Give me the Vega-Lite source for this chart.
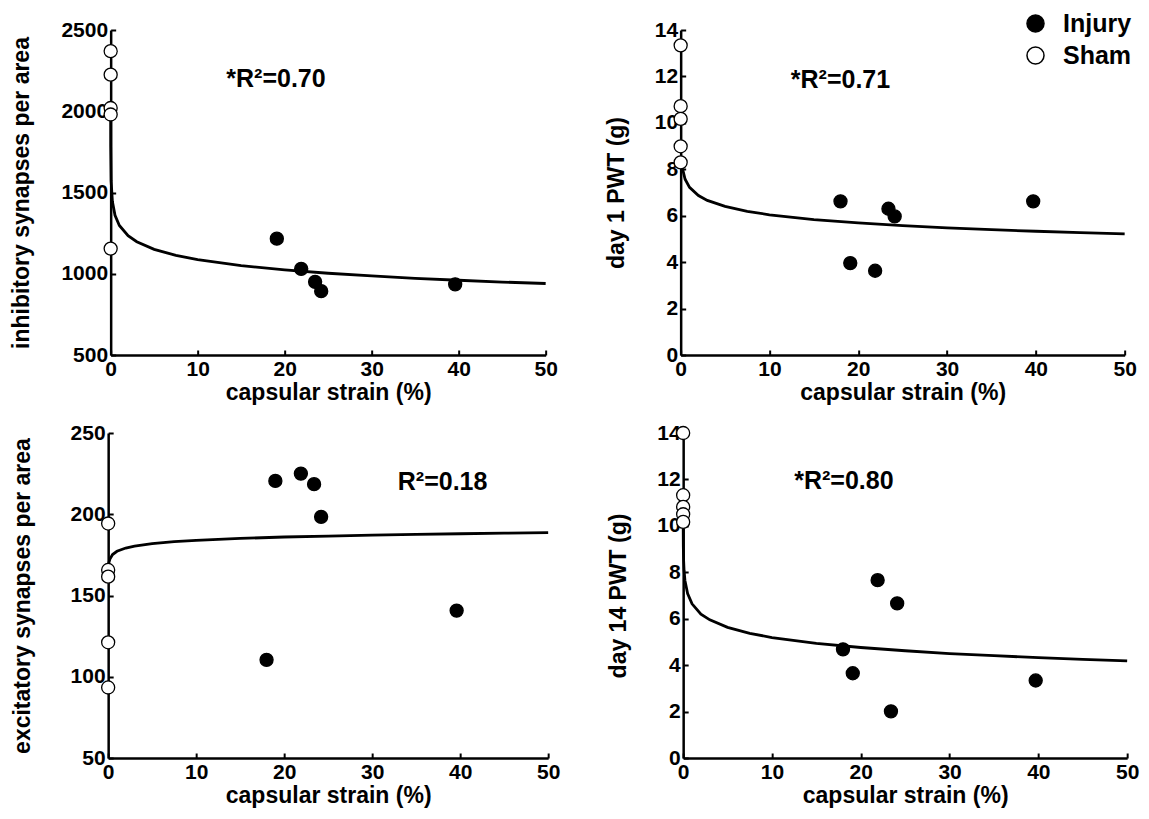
{
  "$schema": "https://vega.github.io/schema/vega-lite/v6.json",
  "padding": {"left": 10, "top": 11, "right": 5, "bottom": 5},
  "background": "white",
  "datasets": {
    "pts1": [
      {"strain": 0, "value": 2370, "group": "Sham"},
      {"strain": 0, "value": 2225, "group": "Sham"},
      {"strain": 0, "value": 2020, "group": "Sham"},
      {"strain": 0, "value": 1980, "group": "Sham"},
      {"strain": 0, "value": 1155, "group": "Sham"},
      {"strain": 19.1, "value": 1216, "group": "Injury"},
      {"strain": 21.9, "value": 1030, "group": "Injury"},
      {"strain": 23.5, "value": 950, "group": "Injury"},
      {"strain": 24.2, "value": 893, "group": "Injury"},
      {"strain": 39.6, "value": 935, "group": "Injury"}
    ],
    "fit1": [
      {"strain": 0.0005, "value": 1991}, {"strain": 0.005, "value": 1781}, {"strain": 0.05, "value": 1571},
      {"strain": 0.2, "value": 1444}, {"strain": 0.5, "value": 1360}, {"strain": 1, "value": 1297},
      {"strain": 2, "value": 1234}, {"strain": 3, "value": 1197}, {"strain": 5, "value": 1150},
      {"strain": 7.5, "value": 1113}, {"strain": 10, "value": 1087}, {"strain": 15, "value": 1050},
      {"strain": 20, "value": 1024}, {"strain": 25, "value": 1003}, {"strain": 30, "value": 987},
      {"strain": 35, "value": 972}, {"strain": 40, "value": 960}, {"strain": 45, "value": 949},
      {"strain": 50, "value": 940}
    ],
    "r1": [{"strain": 19.0, "value": 2197, "label": "*R²=0.70"}],
    "pts2": [
      {"strain": 0, "value": 13.34, "group": "Sham"},
      {"strain": 0, "value": 10.72, "group": "Sham"},
      {"strain": 0, "value": 10.17, "group": "Sham"},
      {"strain": 0, "value": 8.99, "group": "Sham"},
      {"strain": 0, "value": 8.30, "group": "Sham"},
      {"strain": 18.0, "value": 6.62, "group": "Injury"},
      {"strain": 19.1, "value": 3.96, "group": "Injury"},
      {"strain": 21.9, "value": 3.63, "group": "Injury"},
      {"strain": 23.4, "value": 6.30, "group": "Injury"},
      {"strain": 24.1, "value": 5.97, "group": "Injury"},
      {"strain": 39.7, "value": 6.62, "group": "Injury"}
    ],
    "fit2": [
      {"strain": 0.1, "value": 8.40}, {"strain": 0.2, "value": 8.04}, {"strain": 0.5, "value": 7.57},
      {"strain": 1, "value": 7.22}, {"strain": 2, "value": 6.87}, {"strain": 3, "value": 6.66},
      {"strain": 5, "value": 6.40}, {"strain": 7.5, "value": 6.19}, {"strain": 10, "value": 6.04},
      {"strain": 15, "value": 5.83}, {"strain": 20, "value": 5.69}, {"strain": 25, "value": 5.57},
      {"strain": 30, "value": 5.48}, {"strain": 35, "value": 5.40}, {"strain": 40, "value": 5.33},
      {"strain": 45, "value": 5.27}, {"strain": 50, "value": 5.22}
    ],
    "r2": [{"strain": 18.0, "value": 11.85, "label": "*R²=0.71"}],
    "pts3": [
      {"strain": 0, "value": 194.3, "group": "Sham"},
      {"strain": 0, "value": 165.7, "group": "Sham"},
      {"strain": 0, "value": 161.6, "group": "Sham"},
      {"strain": 0, "value": 121.2, "group": "Sham"},
      {"strain": 0, "value": 93.4, "group": "Sham"},
      {"strain": 19.0, "value": 220.5, "group": "Injury"},
      {"strain": 21.9, "value": 225, "group": "Injury"},
      {"strain": 23.4, "value": 218.5, "group": "Injury"},
      {"strain": 24.2, "value": 198.4, "group": "Injury"},
      {"strain": 18.0, "value": 110.4, "group": "Injury"},
      {"strain": 39.6, "value": 140.7, "group": "Injury"}
    ],
    "fit3": [
      {"strain": 0.05, "value": 168.4}, {"strain": 0.1, "value": 170.5}, {"strain": 0.2, "value": 172.5},
      {"strain": 0.5, "value": 175.2}, {"strain": 1, "value": 177.2}, {"strain": 2, "value": 179.2},
      {"strain": 3, "value": 180.4}, {"strain": 5, "value": 181.9}, {"strain": 7.5, "value": 183.1},
      {"strain": 10, "value": 183.9}, {"strain": 15, "value": 185.1}, {"strain": 20, "value": 186.0},
      {"strain": 25, "value": 186.6}, {"strain": 30, "value": 187.2}, {"strain": 35, "value": 187.6},
      {"strain": 40, "value": 188.0}, {"strain": 45, "value": 188.4}, {"strain": 50, "value": 188.7}
    ],
    "r3": [{"strain": 38.0, "value": 220, "label": "R²=0.18"}],
    "pts4": [
      {"strain": 0, "value": 14.0, "group": "Sham"},
      {"strain": 0, "value": 11.32, "group": "Sham"},
      {"strain": 0, "value": 10.82, "group": "Sham"},
      {"strain": 0, "value": 10.50, "group": "Sham"},
      {"strain": 0, "value": 10.17, "group": "Sham"},
      {"strain": 21.9, "value": 7.66, "group": "Injury"},
      {"strain": 24.1, "value": 6.66, "group": "Injury"},
      {"strain": 18.0, "value": 4.68, "group": "Injury"},
      {"strain": 19.1, "value": 3.65, "group": "Injury"},
      {"strain": 23.4, "value": 2.01, "group": "Injury"},
      {"strain": 39.7, "value": 3.34, "group": "Injury"}
    ],
    "fit4": [
      {"strain": 0.005, "value": 9.97}, {"strain": 0.02, "value": 9.10}, {"strain": 0.05, "value": 8.52},
      {"strain": 0.1, "value": 8.09}, {"strain": 0.2, "value": 7.65}, {"strain": 0.5, "value": 7.08},
      {"strain": 1, "value": 6.64}, {"strain": 2, "value": 6.20}, {"strain": 3, "value": 5.95},
      {"strain": 5, "value": 5.63}, {"strain": 7.5, "value": 5.37}, {"strain": 10, "value": 5.19},
      {"strain": 15, "value": 4.94}, {"strain": 20, "value": 4.76}, {"strain": 25, "value": 4.62},
      {"strain": 30, "value": 4.50}, {"strain": 35, "value": 4.41}, {"strain": 40, "value": 4.32},
      {"strain": 45, "value": 4.25}, {"strain": 50, "value": 4.18}
    ],
    "r4": [{"strain": 18.1, "value": 11.95, "label": "*R²=0.80"}]
  },
  "config": {
    "font": "Liberation Sans",
    "view": {"stroke": null},
    "axis": {
      "grid": false,
      "format": "d",
      "domainColor": "black",
      "domainWidth": 2.5,
      "tickColor": "black",
      "tickWidth": 2,
      "tickSize": -5,
      "labelFont": "Liberation Sans",
      "labelFontSize": 21,
      "labelFontWeight": "bold",
      "labelColor": "black",
      "labelPadding": 8,
      "labelFlush": false,
      "labelOverlap": false,
      "titleFont": "Liberation Sans",
      "titleFontSize": 23,
      "titleFontWeight": "bold",
      "titleColor": "black"
    },
    "axisX": {"titlePadding": 2},
    "axisY": {"titlePadding": 26},
    "text": {"font": "Liberation Sans", "fontSize": 25, "fontWeight": "bold", "color": "black"}
  },
  "spacing": 18,
  "center": true,
  "vconcat": [
    {
      "bounds": "flush",
      "spacing": 135,
      "hconcat": [
        {
          "width": 435,
          "height": 325,
          "layer": [
            {
              "data": {"name": "fit1"},
              "mark": {"type": "line", "color": "black", "strokeWidth": 2.8},
              "encoding": {
                "x": {"field": "strain", "type": "quantitative", "scale": {"domain": [0, 50], "nice": false}, "axis": {"values": [0, 10, 20, 30, 40, 50], "title": "capsular strain (%)"}},
                "y": {"field": "value", "type": "quantitative", "scale": {"domain": [500, 2500], "nice": false}, "axis": {"values": [500, 1000, 1500, 2000, 2500], "title": "inhibitory synapses per area", "titlePadding": 27}}
              }
            },
            {
              "data": {"name": "pts1"},
              "mark": {"type": "point", "shape": "circle", "filled": true, "size": 170, "stroke": "black", "strokeWidth": 1.3, "opacity": 1},
              "encoding": {
                "x": {"field": "strain", "type": "quantitative"},
                "y": {"field": "value", "type": "quantitative"},
                "fill": {"field": "group", "type": "nominal", "scale": {"domain": ["Injury", "Sham"], "range": ["black", "white"]},
                  "legend": {"title": null, "orient": "none", "legendX": 915, "legendY": -19, "symbolType": "circle", "symbolSize": 290, "symbolStrokeColor": "black", "symbolStrokeWidth": 1.5, "labelFontSize": 25, "labelFontWeight": "bold", "labelFont": "Liberation Sans", "labelColor": "black", "labelOffset": 15, "rowPadding": 6, "padding": 0}}
              }
            },
            {
              "data": {"name": "r1"},
              "mark": {"type": "text", "align": "center", "baseline": "middle"},
              "encoding": {
                "x": {"field": "strain", "type": "quantitative"},
                "y": {"field": "value", "type": "quantitative"},
                "text": {"field": "label"}
              }
            }
          ]
        },
        {
          "width": 444,
          "height": 325,
          "layer": [
            {
              "data": {"name": "fit2"},
              "mark": {"type": "line", "color": "black", "strokeWidth": 2.8},
              "encoding": {
                "x": {"field": "strain", "type": "quantitative", "scale": {"domain": [0, 50], "nice": false}, "axis": {"values": [0, 10, 20, 30, 40, 50], "title": "capsular strain (%)"}},
                "y": {"field": "value", "type": "quantitative", "scale": {"domain": [0, 14], "nice": false}, "axis": {"values": [0, 2, 4, 6, 8, 10, 12, 14], "title": "day 1 PWT (g)"}}
              }
            },
            {
              "data": {"name": "pts2"},
              "mark": {"type": "point", "shape": "circle", "filled": true, "size": 170, "stroke": "black", "strokeWidth": 1.3, "opacity": 1},
              "encoding": {
                "x": {"field": "strain", "type": "quantitative"},
                "y": {"field": "value", "type": "quantitative"},
                "fill": {"field": "group", "type": "nominal", "scale": {"domain": ["Injury", "Sham"], "range": ["black", "white"]},
                  "legend": {"title": null, "orient": "none", "legendX": 915, "legendY": -19, "symbolType": "circle", "symbolSize": 290, "symbolStrokeColor": "black", "symbolStrokeWidth": 1.5, "labelFontSize": 25, "labelFontWeight": "bold", "labelFont": "Liberation Sans", "labelColor": "black", "labelOffset": 15, "rowPadding": 6, "padding": 0}}
              }
            },
            {
              "data": {"name": "r2"},
              "mark": {"type": "text", "align": "center", "baseline": "middle"},
              "encoding": {
                "x": {"field": "strain", "type": "quantitative"},
                "y": {"field": "value", "type": "quantitative"},
                "text": {"field": "label"}
              }
            }
          ]
        }
      ]
    },
    {
      "bounds": "flush",
      "spacing": 135,
      "hconcat": [
        {
          "width": 440,
          "height": 325,
          "layer": [
            {
              "data": {"name": "fit3"},
              "mark": {"type": "line", "color": "black", "strokeWidth": 2.8},
              "encoding": {
                "x": {"field": "strain", "type": "quantitative", "scale": {"domain": [0, 50], "nice": false}, "axis": {"values": [0, 10, 20, 30, 40, 50], "title": "capsular strain (%)"}},
                "y": {"field": "value", "type": "quantitative", "scale": {"domain": [50, 250], "nice": false}, "axis": {"values": [50, 100, 150, 200, 250], "title": "excitatory synapses per area", "titlePadding": 36}}
              }
            },
            {
              "data": {"name": "pts3"},
              "mark": {"type": "point", "shape": "circle", "filled": true, "size": 170, "stroke": "black", "strokeWidth": 1.3, "opacity": 1},
              "encoding": {
                "x": {"field": "strain", "type": "quantitative"},
                "y": {"field": "value", "type": "quantitative"},
                "fill": {"field": "group", "type": "nominal", "scale": {"domain": ["Injury", "Sham"], "range": ["black", "white"]},
                  "legend": {"title": null, "orient": "none", "legendX": 915, "legendY": -19, "symbolType": "circle", "symbolSize": 290, "symbolStrokeColor": "black", "symbolStrokeWidth": 1.5, "labelFontSize": 25, "labelFontWeight": "bold", "labelFont": "Liberation Sans", "labelColor": "black", "labelOffset": 15, "rowPadding": 6, "padding": 0}}
              }
            },
            {
              "data": {"name": "r3"},
              "mark": {"type": "text", "align": "center", "baseline": "middle"},
              "encoding": {
                "x": {"field": "strain", "type": "quantitative"},
                "y": {"field": "value", "type": "quantitative"},
                "text": {"field": "label"}
              }
            }
          ]
        },
        {
          "width": 444,
          "height": 325,
          "layer": [
            {
              "data": {"name": "fit4"},
              "mark": {"type": "line", "color": "black", "strokeWidth": 2.8},
              "encoding": {
                "x": {"field": "strain", "type": "quantitative", "scale": {"domain": [0, 50], "nice": false}, "axis": {"values": [0, 10, 20, 30, 40, 50], "title": "capsular strain (%)"}},
                "y": {"field": "value", "type": "quantitative", "scale": {"domain": [0, 14], "nice": false}, "axis": {"values": [0, 2, 4, 6, 8, 10, 12, 14], "title": "day 14 PWT (g)"}}
              }
            },
            {
              "data": {"name": "pts4"},
              "mark": {"type": "point", "shape": "circle", "filled": true, "size": 170, "stroke": "black", "strokeWidth": 1.3, "opacity": 1},
              "encoding": {
                "x": {"field": "strain", "type": "quantitative"},
                "y": {"field": "value", "type": "quantitative"},
                "fill": {"field": "group", "type": "nominal", "scale": {"domain": ["Injury", "Sham"], "range": ["black", "white"]},
                  "legend": {"title": null, "orient": "none", "legendX": 915, "legendY": -19, "symbolType": "circle", "symbolSize": 290, "symbolStrokeColor": "black", "symbolStrokeWidth": 1.5, "labelFontSize": 25, "labelFontWeight": "bold", "labelFont": "Liberation Sans", "labelColor": "black", "labelOffset": 15, "rowPadding": 6, "padding": 0}}
              }
            },
            {
              "data": {"name": "r4"},
              "mark": {"type": "text", "align": "center", "baseline": "middle"},
              "encoding": {
                "x": {"field": "strain", "type": "quantitative"},
                "y": {"field": "value", "type": "quantitative"},
                "text": {"field": "label"}
              }
            }
          ]
        }
      ]
    }
  ]
}
